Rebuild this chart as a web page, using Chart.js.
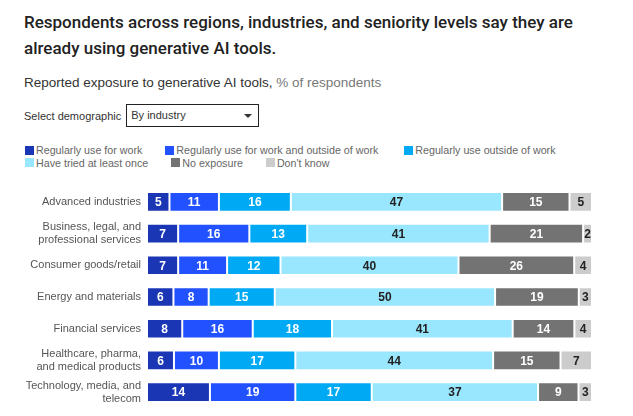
<!DOCTYPE html>
<html lang="en">
<head>
<meta charset="UTF-8">
<title>Generative AI exposure by industry</title>
<script src="https://cdn.jsdelivr.net/npm/chart.js"></script>
<style>
    body { margin: 0; width: 633px; height: 416px; position: relative; overflow: hidden; background: #fff;
           font-family: "Liberation Sans", Arial, sans-serif; }
    #title { position: absolute; left: 24px; top: 9px; width: 580px; font-size: 17px; line-height: 26px;
             color: #222; font-weight: 500; font-family: Roboto, "Liberation Sans", sans-serif; }
    #subtitle { position: absolute; left: 24px; top: 75px; font-size: 13.5px; color: #333; }
    #subtitle span { color: #777; }
    #select-row { position: absolute; left: 24px; top: 104px; font-size: 11px; color: #333; display: flex; align-items: center; }
    #select-box { margin-left: 5px; width: 127px; height: 21px; border: 1px solid #222; position: relative;
                  font-size: 11px; line-height: 21px; padding-left: 4px; box-sizing: content-box; }
    #select-box:after { content: ""; position: absolute; right: 6px; top: 9px; border-left: 4px solid transparent;
                        border-right: 4px solid transparent; border-top: 4px solid #333; }
    #legend { position: absolute; left: 25px; top: 144px; width: 580px; display: flex; flex-wrap: wrap;
              column-gap: 23px; row-gap: 0; font-size: 10.7px; color: #666; line-height: 12.5px; }
    #legend .item { display: flex; align-items: center; }
    #legend .sw { width: 9px; height: 9px; margin-right: 2px; }
    #legend .item:nth-child(3) { margin-left: 3px; }
    #chart-wrap { position: absolute; left: 0; top: 176px; width: 633px; height: 240px; }
</style>
</head>
<body>
<div id="title">Respondents across regions, industries, and seniority levels say they are already using generative AI tools.</div>
<div id="subtitle">Reported exposure to generative AI tools, <span>% of respondents</span></div>
<div id="select-row">Select demographic <div id="select-box">By industry</div></div>
<div id="legend"></div>
<div id="chart-wrap"><canvas id="barChart"></canvas></div>

<script>
// industries (multi-line labels)
var industries = [
    'Advanced industries',
    ['Business, legal, and', 'professional services'],
    'Consumer goods/retail',
    'Energy and materials',
    'Financial services',
    ['Healthcare, pharma,', 'and medical products'],
    ['Technology, media, and', 'telecom']
];
var seriesNames = ['Regularly use for work', 'Regularly use for work and outside of work',
    'Regularly use outside of work', 'Have tried at least once', 'No exposure', "Don't know"];
var seriesColors = ['#1a36b4', '#2251ff', '#00a9f4', '#99e6ff', '#737373', '#cccccc'];
var labelColors = ['#fff', '#fff', '#fff', '#222', '#fff', '#222'];

// % of respondents per series, one entry per industry
var useForWork     = [5, 7, 7, 6, 8, 6, 14];
var useWorkOutside = [11, 16, 11, 8, 16, 10, 19];
var useOutside     = [16, 13, 12, 15, 18, 17, 17];
var triedOnce      = [47, 41, 40, 50, 41, 44, 37];
var noExposure     = [15, 21, 26, 19, 14, 15, 9];
var dontKnow       = [5, 2, 4, 3, 4, 7, 3];

var series = [useForWork, useWorkOutside, useOutside, triedOnce, noExposure, dontKnow];

// rounded values don't add to exactly 100, so bars are drawn as share of row total
var rowTotals = industries.map(function (_, i) {
    return series.reduce(function (s, arr) { return s + arr[i]; }, 0);
});

// legend in html
var legend = document.getElementById('legend');
seriesNames.forEach(function (name, k) {
    var item = document.createElement('div');
    item.className = 'item';
    item.innerHTML = '<span class="sw" style="background:' + seriesColors[k] + '"></span>' + name;
    legend.appendChild(item);
});

// draws the value in the middle of each segment
var valueLabels = {
    id: 'valueLabels',
    afterDatasetsDraw: function (chart) {
        var ctx = chart.ctx;
        ctx.save();
        ctx.font = 'bold 12px "Liberation Sans", Arial, sans-serif';
        ctx.textAlign = 'center';
        ctx.textBaseline = 'middle';
        chart.data.datasets.forEach(function (ds, k) {
            chart.getDatasetMeta(k).data.forEach(function (bar, i) {
                var p = bar.getProps(['x', 'y', 'base'], true);
                ctx.fillStyle = labelColors[k];
                ctx.fillText(series[k][i], (p.x + p.base) / 2, p.y + 1);
            });
        });
        ctx.restore();
    }
};

var ctx = document.getElementById('barChart').getContext('2d');
new Chart(ctx, {
    type: 'bar',
    data: {
        labels: industries,
        datasets: series.map(function (arr, k) {
            return {
                label: seriesNames[k],
                data: arr.map(function (v, i) { return v / rowTotals[i] * 100; }),
                backgroundColor: seriesColors[k],
                borderColor: 'rgba(255,255,255,0.7)',
                borderWidth: 1,
                borderSkipped: false,
                categoryPercentage: 1,
                barPercentage: 0.62
            };
        })
    },
    options: {
        indexAxis: 'y',
        responsive: true,
        maintainAspectRatio: false,
        animation: false,
        layout: { padding: { left: 0, right: 41, top: 10, bottom: 8 } },
        plugins: { legend: { display: false }, tooltip: { enabled: false } },
        scales: {
            x: { stacked: true, min: 0, max: 100, display: false },
            y: {
                stacked: true,
                grid: { display: false, drawTicks: false },
                border: { display: false },
                ticks: {
                    padding: 6,
                    color: '#555',
                    font: { family: '"Liberation Sans", Arial, sans-serif', size: 11, lineHeight: 1.2 }
                },
                afterFit: function (scale) {
                    scale.width = 147;
                    scale.paddingTop = 0;
                    scale.paddingBottom = 0;
                }
            }
        }
    },
    plugins: [valueLabels]
});
</script>
</body>
</html>
